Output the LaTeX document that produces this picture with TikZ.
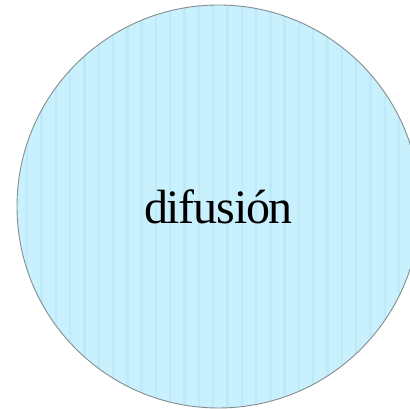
\documentclass[tikz,border=0pt]{standalone}
\usepackage{fontspec}
\setmainfont{Liberation Serif}
\newfontfamily\difFont[LetterSpace=-2.5]{Liberation Serif}
\definecolor{difFill}{HTML}{C8F1FD}
\definecolor{difStripe}{HTML}{BEE9F8}
\definecolor{difEdge}{HTML}{858C8F}

\begin{document}
\begin{tikzpicture}[x=1pt,y=1pt,
  bubble/.style={circle,draw=difEdge,line width=0.9pt,fill=difFill,
    minimum size=403pt,inner sep=0pt,font=\difFont\fontsize{48}{56}\selectfont}]
\useasboundingbox (0,0) rectangle (410,409);
\clip (0,0) rectangle (410,409);
% ---------- the bubble, with its faint vertical stripes ----------
\node[bubble,path picture={%
  \foreach \k in {0,...,28}{% one stripe every 14.3pt
    \fill[difStripe] ([xshift=\k*14.3pt+9pt]path picture bounding box.south west)
      rectangle ++(2.4,403);
  }}] (dif) at (218.5,202.5) {difusión};
\end{tikzpicture}
\end{document}
